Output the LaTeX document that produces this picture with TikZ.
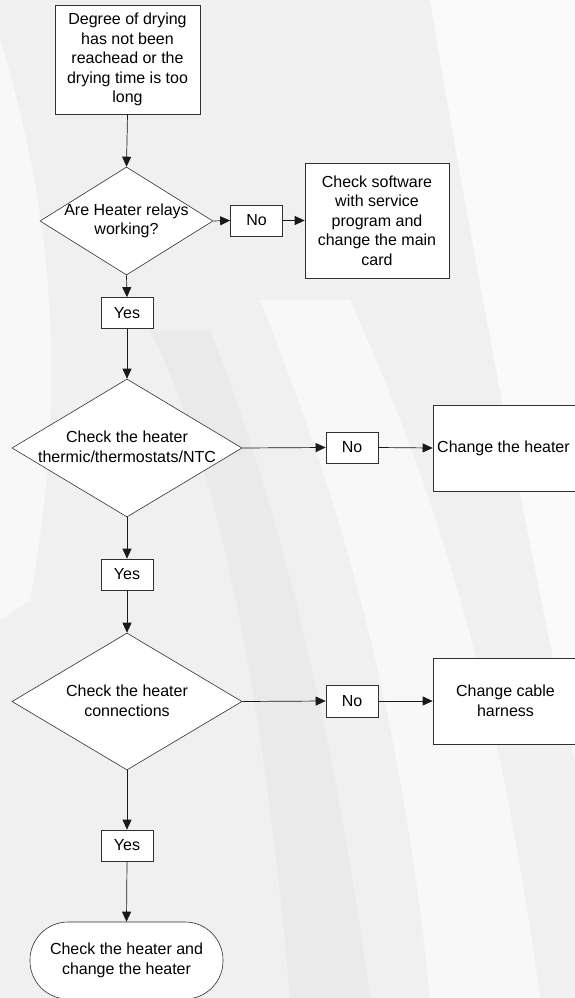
\documentclass[tikz,border=0pt]{standalone}
\usepackage{fontspec}
\setmainfont{Liberation Sans}
\usetikzlibrary{shapes.geometric,arrows.meta}
\definecolor{bg}{HTML}{F0F0F0}
\definecolor{band}{HTML}{E6E6E6}
\definecolor{edge}{HTML}{303030}
\definecolor{lite}{HTML}{FAFAFA}
\tikzset{
  every node/.style={font=\fontsize{16}{19.6}\selectfont, text=black},
  box/.style={draw=edge, line width=0.7pt, fill=white, inner sep=0pt, align=center},
  lbl/.style={box, minimum width=52pt, minimum height=31pt},
  dia/.style={draw=edge, line width=0.6pt, fill=white, diamond, inner sep=0pt},
  txt/.style={align=center, inner sep=0pt},
  conn/.style={draw=black!90, line width=0.7pt, -{Triangle[length=10pt,width=9pt]}},
}
\begin{document}
\begin{tikzpicture}[x=1pt,y=-1pt]
\useasboundingbox (0,0) rectangle (575,998);
% background
\fill[bg] (0,0) rectangle (575,998);
\fill[lite] (430,0) .. controls (480,300) and (540,600) .. (575,760) -- (575,0) -- cycle;
\fill[lite, opacity=0.8] (0,40) .. controls (50,200) and (70,380) .. (30,600) -- (0,620) -- cycle;
\fill[band, opacity=0.6] (150,330) .. controls (210,450) and (260,650) .. (290,998) -- (370,998) .. controls (330,700) and (270,480) .. (210,330) -- cycle;
\fill[lite, opacity=0.8] (260,300) .. controls (340,500) and (400,700) .. (430,998) -- (540,998) .. controls (500,700) and (440,500) .. (350,300) -- cycle;

% nodes
\node[box, minimum width=145pt, minimum height=109pt] (start) at (127.5,59.5)
  {Degree of drying\\has not been\\reachead or the\\drying time is too\\long};
\node[dia, minimum width=173pt, minimum height=108pt] (d1) at (126.5,221) {};
\node[txt] (d1t) at (126.5,221) {Are Heater relays\\working?};
\node[lbl] (no1) at (256.5,220.5) {No};
\node[box, minimum width=144pt, minimum height=115pt] (sw) at (377,220.5)
  {Check software\\with service\\program and\\change the main\\card};
\node[lbl] (yes1) at (127,313) {Yes};

\node[dia, minimum width=230pt, minimum height=138pt] (d2) at (127,448) {};
\node[txt] (d2t) at (127,447) {Check the heater\\thermic/thermostats/NTC};
\node[lbl] (no2) at (352,447.5) {No};
\node[box, minimum width=145pt, minimum height=86pt] (heat) at (505.5,448) {};
\node[txt, anchor=west] (heatt) at (437,448) {Change the heater};
\node[lbl] (yes2) at (127,574.5) {Yes};

\node[dia, minimum width=230pt, minimum height=137pt] (d3) at (127,701.5) {};
\node[txt] (d3t) at (127,701) {Check the heater\\connections};
\node[lbl, minimum height=32pt] (no3) at (352,701) {No};
\node[box, minimum width=145pt, minimum height=86pt] (cable) at (505.5,701) {Change cable\\harness};
\node[lbl] (yes3) at (127,845.5) {Yes};

\node[box, line width=0.6pt, rounded corners=38pt, minimum width=193pt, minimum height=77pt] (term) at (126.5,960.5)
  {Check the heater and\\change the heater};

% connectors
\draw[conn] (start.south) -- (d1.north);
\draw[conn] (d1.east) -- (no1.west);
\draw[conn] (no1.east) -- (sw.west);
\draw[conn] (d1.south) -- (yes1.north);
\draw[conn] (yes1.south) -- (d2.north);
\draw[conn] (d2.east) -- (no2.west);
\draw[conn] (no2.east) -- (heat.west);
\draw[conn] (d2.south) -- (yes2.north);
\draw[conn] (yes2.south) -- (d3.north);
\draw[conn] (d3.east) -- (no3.west);
\draw[conn] (no3.east) -- (cable.west);
\draw[conn] (d3.south) -- (yes3.north);
\draw[conn] (yes3.south) -- (term.north);
\end{tikzpicture}
\end{document}
